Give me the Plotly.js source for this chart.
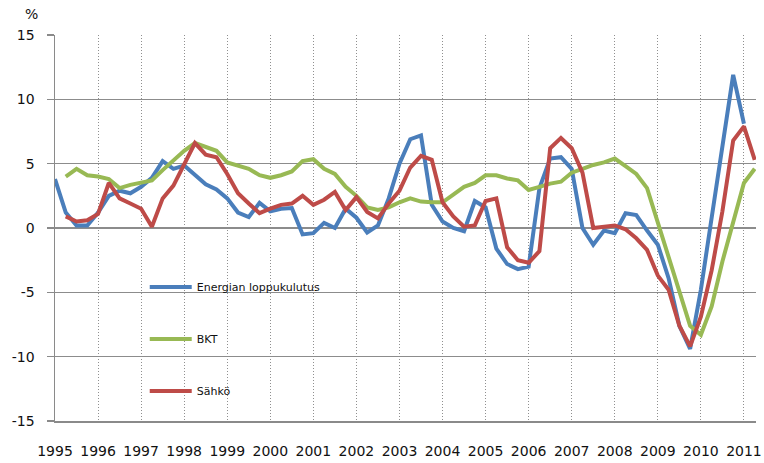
<!DOCTYPE html>
<html>
<head>
<meta charset="utf-8">
<script src="https://cdn.plot.ly/plotly-3.0.1.min.js"></script>
<style>html,body{margin:0;padding:0;background:#fff;}#chart{width:764px;height:463px;}</style>
</head>
<body>
<div id="chart"></div>
<script>
// Quarterly categories 1995Q1 .. 2011Q2
const quarters = [
 "1995Q1","1995Q2","1995Q3","1995Q4","1996Q1","1996Q2","1996Q3","1996Q4",
 "1997Q1","1997Q2","1997Q3","1997Q4","1998Q1","1998Q2","1998Q3","1998Q4",
 "1999Q1","1999Q2","1999Q3","1999Q4","2000Q1","2000Q2","2000Q3","2000Q4",
 "2001Q1","2001Q2","2001Q3","2001Q4","2002Q1","2002Q2","2002Q3","2002Q4",
 "2003Q1","2003Q2","2003Q3","2003Q4","2004Q1","2004Q2","2004Q3","2004Q4",
 "2005Q1","2005Q2","2005Q3","2005Q4","2006Q1","2006Q2","2006Q3","2006Q4",
 "2007Q1","2007Q2","2007Q3","2007Q4","2008Q1","2008Q2","2008Q3","2008Q4",
 "2009Q1","2009Q2","2009Q3","2009Q4","2010Q1","2010Q2","2010Q3","2010Q4",
 "2011Q1","2011Q2"
];
const energia = [
 3.8, 1.2, 0.2, 0.2,   1.2, 2.5, 2.9, 2.7,   3.2, 3.9, 5.2, 4.6,   4.85, 4.1, 3.4, 3.0,
 2.3, 1.2, 0.85, 1.95, 1.3, 1.5, 1.55, -0.5, -0.4, 0.4, 0.0, 1.5,  0.8, -0.35, 0.2, 2.3,
 5.0, 6.9, 7.2, 1.8,   0.5, 0.0, -0.25, 2.1, 1.6, -1.6, -2.8, -3.2, -3.0, 3.1, 5.4, 5.5,
 4.6, 0.0, -1.3, -0.2, -0.4, 1.15, 1.0, -0.2, -1.3, -3.9, -7.6, -9.4, -4.8, 0.8, 6.4, 11.9,
 8.1, null
];
const bkt = [
 null, 4.0, 4.6, 4.1,  4.0, 3.8, 3.1, 3.35,   3.55, 3.7, 4.5, 5.3,  6.0, 6.6, 6.3, 6.0,
 5.1, 4.85, 4.6, 4.1,  3.9, 4.1, 4.4, 5.2,    5.35, 4.6, 4.2, 3.2,  2.5, 1.6, 1.4, 1.6,
 2.0, 2.3, 2.05, 2.0,  2.0, 2.6, 3.2, 3.5,    4.1, 4.1, 3.85, 3.7,  2.95, 3.2, 3.45, 3.6,
 4.3, 4.6, 4.9, 5.1,   5.4, 4.8, 4.2, 3.1,    0.4, -2.3, -5.0, -7.6, -8.3, -6.1, -2.6, 0.4,
 3.5, 4.6
];
const sahko = [
 null, 0.9, 0.5, 0.6,  1.1, 3.5, 2.3, 1.9,    1.5, 0.1, 2.3, 3.3,   4.9, 6.6, 5.7, 5.5,
 4.2, 2.7, 1.9, 1.15,  1.5, 1.8, 1.9, 2.5,    1.8, 2.2, 2.8, 1.4,   2.4, 1.25, 0.75, 1.9,
 2.9, 4.7, 5.6, 5.3,   2.0, 0.9, 0.1, 0.2,    2.1, 2.3, -1.5, -2.5, -2.7, -1.8, 6.2, 7.0,
 6.2, 4.3, 0.0, 0.1,   0.2, -0.1, -0.8, -1.7, -3.7, -4.8, -7.6, -9.2, -6.9, -3.3, 1.3, 6.8,
 7.9, 5.3
];
const yearLabels = ["1995","1996","1997","1998","1999","2000","2001","2002","2003",
 "2004","2005","2006","2007","2008","2009","2010","2011"];
const yTickVals = [-15, -10, -5, 0, 5, 10, 15];
const yTickLabels = ["-15", "-10", "-5", "0", "5", "10", "15"];
const seriesNames = ["Energian loppukulutus","BKT","Sähkö"];
const seriesColors = ["#4A7EBB","#98B954","#BE4B48"];

const xPos = quarters.map(q => parseInt(q.slice(0,4)) + (parseInt(q.slice(5)) - 1) / 4);
const tickVals = yearLabels.map(y => parseInt(y));

const data = [energia, bkt, sahko].map((vals, i) => ({
  type: 'scatter', mode: 'lines', x: xPos, y: vals,
  name: seriesNames[i], legendgroup: 'g' + i,
  line: {color: seriesColors[i], width: 4},
  connectgaps: false, hoverinfo: 'skip'
}));

const layout = {
  width: 764, height: 463,
  margin: {l: 55, r: 8, t: 35, b: 42},
  paper_bgcolor: '#ffffff', plot_bgcolor: '#ffffff',
  font: {family: 'DejaVu Sans, Verdana, sans-serif', size: 14, color: '#1a1a1a'},
  showlegend: true,
  legend: {
    x: 0.128, y: 0.385, xanchor: 'left', yanchor: 'top',
    bgcolor: 'rgba(0,0,0,0)', tracegroupgap: 33, itemwidth: 42,
    font: {family: 'DejaVu Sans, Verdana, sans-serif', size: 11, color: '#111111'}
  },
  xaxis: {
    range: [1995, 2011.28], tickmode: 'array', tickvals: tickVals, ticktext: yearLabels,
    showgrid: true, gridcolor: '#8f8f8f', gridwidth: 1, griddash: '1px,2px',
    showline: true, linecolor: '#8a8a8a', linewidth: 1.5,
    ticks: '', ticklabelstandoff: 17, zeroline: false, fixedrange: true,
    tickfont: {size: 14, color: '#111111'}
  },
  yaxis: {
    range: [-15, 15], tickmode: 'array', tickvals: yTickVals, ticktext: yTickLabels,
    showgrid: true, gridcolor: '#8c8c8c', gridwidth: 1.5,
    showline: true, linecolor: '#8a8a8a', linewidth: 1.5,
    ticks: 'outside', ticklen: 7, tickcolor: '#8a8a8a', tickwidth: 1.5,
    ticklabelstandoff: 9, zeroline: false, fixedrange: true,
    tickfont: {size: 14, color: '#111111'}
  },
  annotations: [{
    text: '%', xref: 'paper', yref: 'paper', x: -0.033, y: 1.055,
    xanchor: 'center', yanchor: 'middle', showarrow: false,
    font: {size: 14, color: '#111111'}
  }]
};

Plotly.newPlot('chart', data, layout, {displayModeBar: false, staticPlot: true});
</script>
</body>
</html>
